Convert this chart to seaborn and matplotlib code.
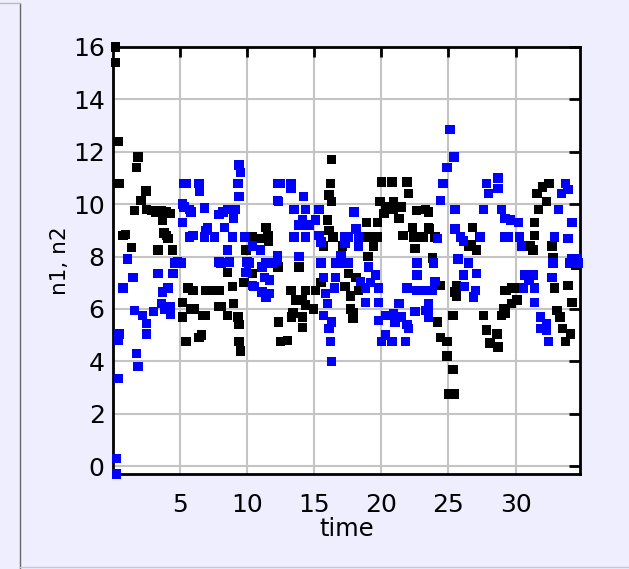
import matplotlib
matplotlib.use("Agg")
import matplotlib.pyplot as plt
import seaborn as sns
import pandas as pd
from matplotlib.lines import Line2D

# ---- data ----
n1_t = [0.2, 0.2, 0.4, 0.45, 0.75, 0.92, 1.4, 1.6, 1.75, 1.85, 2.1, 2.45, 2.5, 2.9, 3.2, 3.35, 3.6, 3.7, 3.8, 4.0,
        4.0, 4.1, 4.3, 4.45, 5.2, 5.2, 5.45, 5.6, 5.8, 5.95, 6.05, 6.4, 6.6, 6.7, 6.9, 6.9, 7.5, 7.9, 7.9, 8.1,
        8.55, 8.55, 8.9, 9.0, 9.3, 9.4, 9.4, 9.5, 9.75, 9.9, 10.4, 10.4, 11.0, 11.4, 11.55, 11.6, 12.3, 12.35, 12.5, 13.0,
        13.25, 13.3, 13.4, 13.6, 13.85, 14.1, 14.1, 14.1, 14.35, 14.35, 14.95, 15.1, 15.5, 15.7, 16.0, 16.1, 16.1, 16.2, 16.3, 16.3,
        16.4, 17.1, 17.3, 17.55, 17.7, 17.7, 17.9, 17.9, 18.1, 18.3, 18.9, 19.0, 19.0, 19.4, 19.7, 19.7, 19.9, 20.0, 20.3, 20.2,
        20.8, 20.9, 20.9, 21.3, 21.5, 21.6, 21.9, 22.0, 22.3, 22.4, 22.5, 22.6, 23.1, 23.3, 23.5, 23.5, 23.6, 23.8, 24.0, 24.2,
        24.4, 24.4, 24.9, 24.9, 25.05, 25.4, 25.35, 25.35, 25.5, 25.6, 25.6, 26.5, 26.7, 26.8, 27.1, 27.3, 27.6, 27.85, 28.1, 28.6,
        28.7, 28.95, 29.1, 29.2, 29.2, 29.3, 29.7, 29.7, 30.1, 30.4, 31.1, 31.3, 31.4, 31.4, 31.6, 31.7, 32.0, 32.3, 32.5, 32.7,
        32.8, 32.9, 33.1, 33.3, 33.5, 33.7, 33.9, 34.1, 34.2, 34.5]
n1_v = [16.0, 15.4, 12.4, 10.8, 8.8, 8.85, 8.35, 9.75, 11.4, 11.8, 10.15, 10.5, 9.8, 9.75, 9.7, 8.25, 9.75, 9.4, 8.9, 9.7,
        8.8, 8.7, 9.65, 8.25, 6.25, 5.7, 4.75, 6.8, 6.0, 6.7, 6.0, 4.9, 5.0, 5.75, 6.7, 5.75, 6.7, 6.7, 6.1, 6.1,
        7.4, 5.75, 6.85, 6.2, 5.7, 5.4, 4.75, 4.4, 7.0, 8.25, 8.75, 7.35, 8.7, 9.1, 8.8, 8.6, 7.6, 5.5, 4.75, 4.8,
        6.7, 5.7, 5.85, 6.35, 7.6, 6.35, 5.3, 5.7, 6.7, 6.15, 6.0, 6.7, 7.0, 8.4, 9.4, 10.35, 9.0, 10.8, 11.7, 10.1,
        8.75, 8.4, 6.85, 7.35, 6.0, 6.5, 5.85, 5.65, 7.2, 6.7, 9.3, 8.75, 8.0, 8.4, 9.3, 8.75, 10.1, 10.85, 9.9, 9.65,
        10.85, 10.1, 9.8, 9.45, 9.9, 8.8, 10.85, 10.4, 9.1, 8.75, 8.3, 9.75, 8.75, 9.8, 9.1, 9.7, 9.05, 7.95, 8.75, 5.5,
        6.9, 4.9, 4.75, 4.2, 2.75, 2.75, 3.7, 5.75, 6.65, 6.9, 6.5, 8.4, 8.45, 9.1, 8.25, 8.75, 5.75, 5.2, 4.7, 5.05,
        4.55, 5.75, 6.0, 6.7, 5.85, 6.7, 6.8, 6.2, 6.35, 6.8, 8.4, 8.25, 8.8, 9.3, 10.4, 9.8, 10.65, 10.1, 10.8, 8.4,
        7.95, 6.8, 5.95, 5.7, 5.25, 4.75, 6.9, 5.05, 6.25, 7.65]

n2_t = [0.25, 0.25, 0.4, 0.4, 0.45, 0.75, 1.1, 1.5, 1.6, 1.75, 1.85, 2.2, 2.5, 2.5, 3.0, 3.35, 3.6, 3.7, 3.85, 4.1,
        4.3, 4.3, 4.46, 4.6, 4.8, 5.1, 5.2, 5.2, 5.3, 5.3, 5.45, 5.7, 5.7, 5.8, 5.95, 6.4, 6.45, 6.8, 6.8, 6.9,
        7.05, 7.55, 7.9, 7.9, 8.05, 8.2, 8.3, 8.55, 8.55, 8.7, 8.9, 9.0, 9.15, 9.3, 9.4, 9.4, 9.5, 9.8, 9.9, 10.0,
        10.15, 10.4, 10.4, 10.5, 11.0, 11.1, 11.1, 11.3, 11.4, 11.4, 11.65, 11.65, 11.9, 12.25, 12.25, 12.25, 12.25, 12.35, 12.5, 13.25,
        13.25, 13.5, 13.5, 13.85, 13.85, 14.1, 14.2, 14.35, 14.35, 14.6, 15.1, 15.35, 15.35, 15.5, 15.5, 15.7, 15.7, 15.85, 16.0, 16.1,
        16.2, 16.3, 16.3, 16.5, 16.6, 16.6, 17.0, 17.1, 17.3, 17.3, 17.55, 17.55, 17.95, 18.1, 18.3, 18.3, 18.45, 18.8, 18.8, 19.05,
        19.2, 19.55, 19.8, 19.8, 19.8, 20.0, 20.3, 20.3, 20.8, 20.9, 21.0, 21.3, 21.5, 21.8, 21.9, 21.9, 22.0, 22.5, 22.65, 22.65,
        22.65, 23.3, 23.3, 23.5, 23.5, 23.5, 23.8, 23.9, 24.0, 24.2, 24.4, 24.6, 24.9, 25.1, 25.4, 25.5, 25.5, 25.7, 25.9, 26.1,
        26.1, 26.2, 26.5, 26.85, 27.0, 27.1, 27.4, 27.6, 27.85, 28.0, 28.7, 28.7, 28.95, 29.2, 29.2, 29.45, 29.6, 30.2, 30.3, 30.45,
        30.6, 30.7, 31.0, 31.3, 31.4, 31.4, 31.85, 31.85, 32.3, 32.45, 32.3, 32.7, 32.8, 32.9, 33.2, 33.4, 33.7, 33.9, 33.9, 34.0,
        34.2, 34.2, 34.6, 34.7]
n2_v = [0.3, -0.3, 3.35, 4.8, 5.05, 6.8, 7.9, 7.2, 5.95, 4.3, 3.8, 5.75, 5.45, 5.05, 5.9, 7.35, 6.2, 6.65, 6.0, 6.8,
        6.1, 5.8, 7.35, 7.75, 7.8, 7.75, 10.0, 9.3, 10.8, 9.9, 10.8, 8.75, 9.8, 9.7, 8.8, 10.8, 10.5, 9.85, 8.75, 9.0,
        9.1, 8.75, 9.6, 7.8, 7.75, 9.7, 9.1, 9.8, 8.25, 7.8, 8.75, 9.45, 9.8, 10.8, 10.3, 11.5, 11.2, 8.75, 7.4, 7.8,
        7.75, 8.4, 6.9, 6.85, 8.25, 7.6, 6.65, 7.2, 7.75, 6.45, 7.1, 6.6, 7.75, 10.8, 10.15, 8.05, 7.85, 10.1, 10.8, 10.8,
        10.6, 9.8, 8.75, 9.2, 8.0, 9.4, 10.3, 9.8, 8.75, 9.2, 9.4, 9.8, 8.8, 8.55, 7.75, 7.2, 5.75, 6.6, 6.2, 5.25,
        4.75, 5.5, 4.0, 6.8, 7.2, 7.75, 8.05, 7.75, 8.75, 8.5, 8.75, 7.75, 9.7, 9.05, 8.75, 8.4, 7.05, 6.25, 6.8, 7.6,
        7.0, 7.3, 6.8, 6.25, 5.55, 4.75, 5.75, 5.0, 4.75, 5.8, 5.5, 6.2, 5.7, 4.75, 6.8, 5.4, 5.25, 5.9, 7.75, 7.3,
        6.7, 6.7, 5.95, 6.2, 5.95, 5.7, 6.7, 7.75, 7.05, 8.7, 10.15, 10.8, 11.4, 12.85, 11.8, 9.8, 9.05, 7.9, 8.75, 8.6,
        7.3, 6.85, 7.75, 6.45, 6.7, 7.35, 8.75, 9.8, 10.8, 10.4, 11.0, 10.6, 9.8, 9.45, 8.75, 8.75, 9.4, 9.3, 8.75, 8.4,
        6.8, 7.3, 7.1, 7.3, 6.8, 6.25, 5.7, 5.25, 5.2, 4.75, 5.45, 7.2, 7.75, 8.75, 9.8, 10.4, 10.8, 10.55, 8.7, 7.75,
        9.3, 7.9, 7.9, 7.75]

x_ticks = [5, 10, 15, 20, 25, 30]
y_ticks = [0, 2, 4, 6, 8, 10, 12, 14, 16]
x_label = "time"
y_label = "n1, n2"
series_names = ["n1", "n2"]
series_colors = ["#000000", "#0000ff"]

df = pd.concat([
    pd.DataFrame({"time": n1_t, "value": n1_v, "series": series_names[0]}),
    pd.DataFrame({"time": n2_t, "value": n2_v, "series": series_names[1]}),
], ignore_index=True)

sns.set_style("white")
plt.rcParams["font.family"] = ["DejaVu Sans"]
plt.rcParams["text.color"] = "black"
plt.rcParams["axes.labelcolor"] = "black"

W, H = 629, 569
fig = plt.figure(figsize=(W / 100, H / 100), dpi=100, facecolor="#eeeeff")
ax = fig.add_axes([113 / W, 1 - 474 / H, (580 - 113) / W, (474 - 47) / H])
ax.set_facecolor("white")

sns.scatterplot(data=df, x="time", y="value", hue="series",
                palette=dict(zip(series_names, series_colors)),
                marker="s", s=46, linewidth=0, legend=False, ax=ax,
                clip_on=False, zorder=3)

ax.set_xlim(0, 34.8)
ax.set_ylim(-0.3, 16)
ax.set_xticks(x_ticks)
ax.set_yticks(y_ticks)
ax.grid(True, color="#c4c4c4", linewidth=1.5)
ax.set_axisbelow(True)
for sp in ax.spines.values():
    sp.set_color("black")
    sp.set_linewidth(2)
ax.tick_params(axis="both", direction="in", length=7, width=2, colors="black",
               labelsize=18, top=True, right=True)
ax.tick_params(axis="x", pad=14)
ax.tick_params(axis="y", length=8, pad=6)
ax.set_xlabel(x_label, fontsize=17.5, labelpad=0, color="black")
ax.set_ylabel(y_label, fontsize=15.5, labelpad=2, color="black")

# outer frame decorations of the panel
fig.add_artist(Line2D([19.5 / W, 19.5 / W], [0, 1 - 3 / H], transform=fig.transFigure,
                      color="#666666", linewidth=1))
fig.add_artist(Line2D([0, 19.5 / W], [1 - 3 / H, 1 - 3 / H], transform=fig.transFigure,
                      color="#bbbbbb", linewidth=1))
fig.add_artist(Line2D([19.5 / W, 1], [1 - 567 / H, 1 - 567 / H], transform=fig.transFigure,
                      color="#c8c8d4", linewidth=1))

fig.savefig("out.png", dpi=100, facecolor=fig.get_facecolor())
